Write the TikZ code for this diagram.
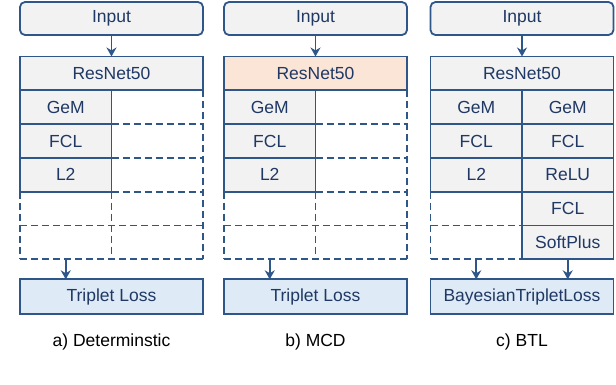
\documentclass[tikz,border=0pt]{standalone}
\usepackage{fontspec}
\setmainfont{Liberation Sans}
\usetikzlibrary{arrows.meta,positioning}
\definecolor{edge}{HTML}{2F5689}
\definecolor{ink}{HTML}{1F3864}
\definecolor{cellgray}{HTML}{F2F2F2}
\definecolor{peach}{HTML}{FBE5D6}
\definecolor{lossblue}{HTML}{DEEBF7}

\begin{document}
\begin{tikzpicture}[
  x=1pt, y=1pt,
  font=\fontsize{17.5}{20}\selectfont,
  box/.style={draw=edge, line width=1.8pt, fill=cellgray, text=ink, inner sep=0pt, outer sep=0pt, minimum height=33.8pt},
  inp/.style={box, rounded corners=5pt, minimum width=183pt, minimum height=33pt},
  wide/.style={box, minimum width=183pt},
  cell/.style={box, minimum width=91.5pt},
  ghost/.style={inner sep=0pt, outer sep=0pt, minimum width=91.5pt, minimum height=33.8pt},
  dashln/.style={draw=edge, line width=1.8pt, dash pattern=on 7pt off 4pt},
  loss/.style={box, fill=lossblue, minimum width=183pt, minimum height=35pt},
  arr/.style={-{Stealth[length=9pt, width=10pt]}, draw=edge, line width=1.8pt},
  capt/.style={text=black, inner sep=0pt}
]
\useasboundingbox (0,0) rectangle (616,-384);

% a) deterministic
\node[inp] (inA) at (111.5,-18.5) {Input};
\node[wide, below=21.5pt of inA] (resA) {ResNet50};
\node[cell, below right=0pt and 0pt of resA.south west] (gemA) {GeM};
\node[cell, below=0pt of gemA] (fcA) {FCL};
\node[cell, below=0pt of fcA] (ltwoA) {L2};
\node[ghost, below=0pt of ltwoA] (eoneA) {};
\node[ghost, below=0pt of eoneA] (etwoA) {};
\node[ghost, right=0pt of gemA] (rgemA) {};
\node[ghost, right=0pt of fcA] (rfcA) {};
\node[ghost, right=0pt of ltwoA] (rltwoA) {};
\node[ghost, right=0pt of eoneA] (roneA) {};
\node[ghost, right=0pt of etwoA] (rtwoA) {};
\draw[dashln] (rgemA.north east) -- (rtwoA.south east);
\draw[dashln] (rgemA.south west) -- (rgemA.south east);
\draw[dashln] (rfcA.south west) -- (rfcA.south east);
\draw[dashln] (rltwoA.south west) -- (rltwoA.south east);
\draw[dashln] (eoneA.south west) -- (roneA.south east);
\draw[dashln] (etwoA.south west) -- (rtwoA.south east);
\draw[dashln] (ltwoA.south west) -- (etwoA.south west);
\draw[dashln] (ltwoA.south east) -- (etwoA.south east);
\node[loss, below right=20pt and 0pt of etwoA.south west] (lossA) {Triplet Loss};
\draw[arr] (inA.south) -- (resA.north);
\draw[arr] (etwoA.south) -- (etwoA.south |- lossA.north);
\node[capt, below=19pt of lossA] (capA) {a) Determinstic};

% b) MCD
\node[inp] (inB) at (315.5,-18.5) {Input};
\node[wide, fill=peach, below=21.5pt of inB] (resB) {ResNet50};
\node[cell, below right=0pt and 0pt of resB.south west] (gemB) {GeM};
\node[cell, below=0pt of gemB] (fcB) {FCL};
\node[cell, below=0pt of fcB] (ltwoB) {L2};
\node[ghost, below=0pt of ltwoB] (eoneB) {};
\node[ghost, below=0pt of eoneB] (etwoB) {};
\node[ghost, right=0pt of gemB] (rgemB) {};
\node[ghost, right=0pt of fcB] (rfcB) {};
\node[ghost, right=0pt of ltwoB] (rltwoB) {};
\node[ghost, right=0pt of eoneB] (roneB) {};
\node[ghost, right=0pt of etwoB] (rtwoB) {};
\draw[dashln] (rgemB.north east) -- (rtwoB.south east);
\draw[dashln] (rgemB.south west) -- (rgemB.south east);
\draw[dashln] (rfcB.south west) -- (rfcB.south east);
\draw[dashln] (rltwoB.south west) -- (rltwoB.south east);
\draw[dashln] (eoneB.south west) -- (roneB.south east);
\draw[dashln] (etwoB.south west) -- (rtwoB.south east);
\draw[dashln] (ltwoB.south west) -- (etwoB.south west);
\draw[dashln] (ltwoB.south east) -- (etwoB.south east);
\node[loss, below right=20pt and 0pt of etwoB.south west] (lossB) {Triplet Loss};
\draw[arr] (inB.south) -- (resB.north);
\draw[arr] (etwoB.south) -- (etwoB.south |- lossB.north);
\node[capt, below=19pt of lossB] (capB) {b) MCD};

% c) BTL
\node[inp] (inC) at (522,-18.5) {Input};
\node[wide, below=21.5pt of inC] (resC) {ResNet50};
\node[cell, below right=0pt and 0pt of resC.south west] (gemC) {GeM};
\node[cell, below=0pt of gemC] (fcC) {FCL};
\node[cell, below=0pt of fcC] (ltwoC) {L2};
\node[ghost, below=0pt of ltwoC] (eoneC) {};
\node[ghost, below=0pt of eoneC] (etwoC) {};
\node[cell, right=0pt of gemC] (rgemC) {GeM};
\node[cell, right=0pt of fcC] (rfcC) {FCL};
\node[cell, right=0pt of ltwoC] (reluC) {ReLU};
\node[cell, right=0pt of eoneC] (rfctwoC) {FCL};
\node[cell, right=0pt of etwoC] (softC) {SoftPlus};
\draw[dashln] (ltwoC.south west) -- (etwoC.south west);
\draw[dashln] (eoneC.south west) -- (eoneC.south east);
\draw[dashln] (etwoC.south west) -- (etwoC.south east);
\node[loss, below right=20pt and 0pt of etwoC.south west] (lossC) {BayesianTripletLoss};
\draw[arr] (inC.south) -- (resC.north);
\draw[arr] (etwoC.south) -- (etwoC.south |- lossC.north);
\draw[arr] (softC.south) -- (softC.south |- lossC.north);
\node[capt, below=19pt of lossC] (capC) {c) BTL};
\end{tikzpicture}
\end{document}
